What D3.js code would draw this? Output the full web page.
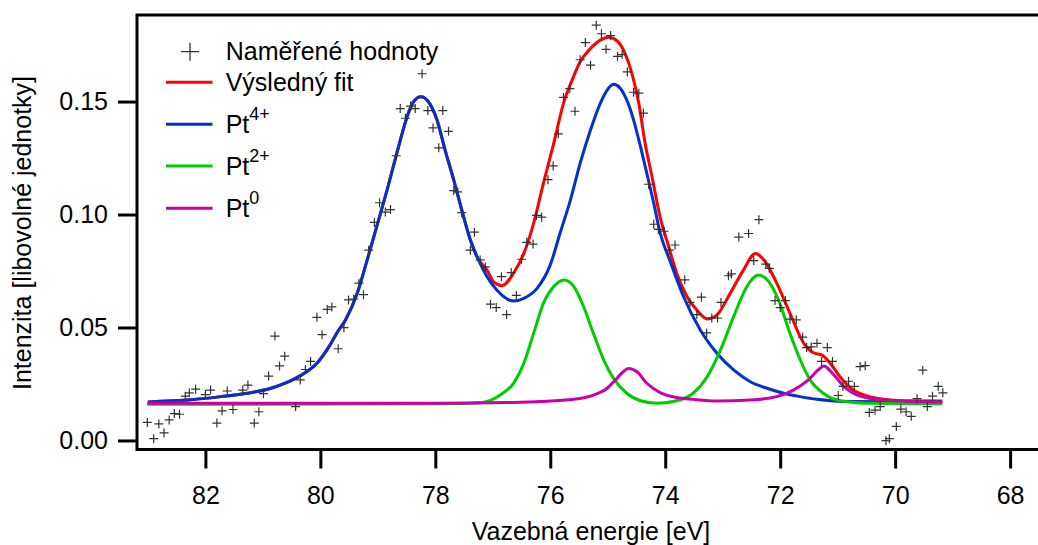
<!DOCTYPE html>
<html>
<head>
<meta charset="utf-8">
<script src="https://cdn.jsdelivr.net/npm/d3@7"></script>
<style>
  body { margin: 0; background: #fff; }
  svg text { font-family: "Liberation Sans", Arial, sans-serif; fill: #000; }
</style>
</head>
<body>
<div id="chart"></div>
<script>
// Measured points (binding energy in eV, intensity)
const measuredE = [83.01, 82.90, 82.81, 82.72, 82.63, 82.54, 82.45, 82.35, 82.28, 82.17,
  82.00, 81.91, 81.80, 81.71, 81.62, 81.52, 81.35, 81.26, 81.15, 81.07,
  80.99, 80.90, 80.79, 80.71, 80.62, 80.43, 80.35, 80.26, 80.17, 80.06,
  79.97, 79.88, 79.80, 79.69, 79.59, 79.51, 79.42, 79.33, 79.25, 79.16,
  79.06, 78.97, 78.87, 78.78, 78.68, 78.61, 78.52, 78.43, 78.35, 78.23,
  78.13, 78.04, 77.94, 77.87, 77.77, 77.68, 77.61, 77.54, 77.39, 77.32,
  77.22, 77.13, 77.04, 76.94, 76.85, 76.76, 76.68, 76.59, 76.50, 76.41,
  76.30, 76.24, 76.15, 76.04, 75.95, 75.86, 75.77, 75.66, 75.57, 75.48,
  75.39, 75.30, 75.20, 75.11, 75.03, 74.95, 74.83, 74.75, 74.66, 74.55,
  74.46, 74.38, 74.29, 74.20, 74.12, 74.02, 73.93, 73.83, 73.66, 73.57,
  73.45, 73.37, 73.28, 73.19, 73.09, 73.03, 72.90, 72.85, 72.72, 72.55,
  72.46, 72.37, 72.25, 72.19, 72.09, 72.00, 71.91, 71.83, 71.72, 71.61,
  71.54, 71.46, 71.36, 71.28, 71.18, 71.09, 70.99, 70.91, 70.81, 70.71,
  70.61, 70.52, 70.45, 70.35, 70.26, 70.16, 70.10, 69.98, 69.90, 69.81,
  69.72, 69.62, 69.52, 69.44, 69.35, 69.25, 69.17];
const measuredI = [0.0080, 0.0008, 0.0073, 0.0034, 0.0091, 0.0119, 0.0116, 0.0196, 0.0211, 0.0227,
  0.0203, 0.0223, 0.0077, 0.0131, 0.0219, 0.0137, 0.0223, 0.0245, 0.0077, 0.0127,
  0.0207, 0.0285, 0.0462, 0.0330, 0.0373, 0.0150, 0.0268, 0.0314, 0.0350, 0.0545,
  0.0468, 0.0580, 0.0591, 0.0406, 0.0499, 0.0622, 0.0626, 0.0696, 0.0645, 0.0842,
  0.0965, 0.1052, 0.1011, 0.1022, 0.1260, 0.1469, 0.1426, 0.1480, 0.1469, 0.1623,
  0.1460, 0.1383, 0.1295, 0.1460, 0.1368, 0.1106, 0.1100, 0.1008, 0.0842, 0.0922,
  0.0799, 0.0768, 0.0603, 0.0588, 0.0725, 0.0557, 0.0743, 0.0642, 0.0802, 0.0877,
  0.0869, 0.0996, 0.0988, 0.1154, 0.1215, 0.1357, 0.1518, 0.1557, 0.1457, 0.1685,
  0.1761, 0.1661, 0.1838, 0.1800, 0.1731, 0.1792, 0.1700, 0.1708, 0.1631, 0.1541,
  0.1537, 0.1449, 0.1134, 0.0957, 0.0934, 0.0926, 0.0842, 0.0865, 0.0711, 0.0611,
  0.0557, 0.0634, 0.0476, 0.0542, 0.0542, 0.0611, 0.0729, 0.0737, 0.0900, 0.0916,
  0.0796, 0.0977, 0.0780, 0.0762, 0.0619, 0.0588, 0.0619, 0.0537, 0.0534, 0.0457,
  0.0411, 0.0414, 0.0430, 0.0350, 0.0411, 0.0350, 0.0199, 0.0239, 0.0262, 0.0239,
  0.0327, 0.0331, 0.0124, 0.0134, 0.0150, -0.0001, 0.0008, 0.0062, 0.0139, 0.0127,
  0.0107, 0.0185, 0.0311, 0.0150, 0.0196, 0.0239, 0.0211];

// Fitted curves: [energy, intensity]
const fitCurve = [[83.00, 0.0170], [82.85, 0.0172], [82.31, 0.0179], [81.73, 0.0194], [81.27, 0.0209],
  [80.86, 0.0231], [80.57, 0.0258], [80.34, 0.0288], [80.06, 0.0342], [79.83, 0.0423],
  [79.71, 0.0477], [79.57, 0.0530], [79.36, 0.0650], [79.19, 0.0795], [79.01, 0.0955],
  [78.84, 0.1108], [78.67, 0.1271], [78.49, 0.1433], [78.38, 0.1499], [78.25, 0.1521],
  [78.12, 0.1499], [77.97, 0.1418], [77.83, 0.1285], [77.68, 0.1153], [77.54, 0.1020],
  [77.39, 0.0887], [77.25, 0.0802], [77.10, 0.0754], [76.99, 0.0703], [76.84, 0.0685],
  [76.64, 0.0740], [76.46, 0.0828], [76.29, 0.0961], [76.12, 0.1138], [75.94, 0.1315],
  [75.77, 0.1492], [75.62, 0.1595], [75.48, 0.1676], [75.30, 0.1735], [75.13, 0.1772],
  [74.99, 0.1784], [74.84, 0.1769], [74.70, 0.1713], [74.58, 0.1625], [74.46, 0.1492],
  [74.35, 0.1315], [74.23, 0.1167], [74.09, 0.0990], [73.94, 0.0858], [73.80, 0.0740],
  [73.62, 0.0636], [73.45, 0.0577], [73.27, 0.0538], [73.10, 0.0556], [72.87, 0.0651],
  [72.64, 0.0754], [72.43, 0.0828], [72.26, 0.0791], [72.06, 0.0696], [71.83, 0.0563],
  [71.59, 0.0430], [71.42, 0.0388], [71.27, 0.0378], [71.13, 0.0342], [70.96, 0.0282],
  [70.73, 0.0223], [70.49, 0.0197], [70.20, 0.0182], [69.86, 0.0176], [69.18, 0.0175]];

const pt4Curve = [[83.00, 0.0170], [82.85, 0.0172], [82.31, 0.0179], [81.73, 0.0194], [81.27, 0.0209],
  [80.86, 0.0231], [80.57, 0.0258], [80.34, 0.0288], [80.06, 0.0342], [79.83, 0.0423],
  [79.71, 0.0477], [79.57, 0.0530], [79.36, 0.0650], [79.19, 0.0795], [79.01, 0.0955],
  [78.84, 0.1108], [78.67, 0.1271], [78.49, 0.1433], [78.38, 0.1499], [78.25, 0.1521],
  [78.12, 0.1499], [77.97, 0.1418], [77.83, 0.1285], [77.68, 0.1153], [77.54, 0.1020],
  [77.39, 0.0887], [77.25, 0.0799], [77.10, 0.0725], [76.93, 0.0666], [76.64, 0.0617],
  [76.46, 0.0629], [76.23, 0.0673], [76.00, 0.0777], [75.83, 0.0917], [75.65, 0.1064],
  [75.48, 0.1227], [75.30, 0.1374], [75.13, 0.1492], [74.99, 0.1558], [74.90, 0.1576],
  [74.78, 0.1558], [74.67, 0.1507], [74.55, 0.1418], [74.43, 0.1300], [74.32, 0.1182],
  [74.20, 0.1050], [74.09, 0.0920], [73.91, 0.0790], [73.68, 0.0636], [73.39, 0.0489],
  [73.10, 0.0386], [72.81, 0.0312], [72.52, 0.0260], [72.23, 0.0231], [71.94, 0.0209],
  [71.65, 0.0194], [71.36, 0.0182], [71.07, 0.0175], [70.78, 0.0172], [69.18, 0.0170]];

const pt2Curve = [[83.01, 0.0160], [77.91, 0.0162], [77.22, 0.0167], [76.87, 0.0201], [76.64, 0.0253],
  [76.46, 0.0342], [76.29, 0.0474], [76.12, 0.0607], [75.94, 0.0681], [75.76, 0.0710],
  [75.59, 0.0681], [75.42, 0.0592], [75.25, 0.0474], [75.07, 0.0356], [74.90, 0.0275],
  [74.67, 0.0209], [74.43, 0.0176], [74.14, 0.0165], [73.80, 0.0176], [73.51, 0.0210],
  [73.27, 0.0282], [73.04, 0.0400], [72.81, 0.0548], [72.58, 0.0681], [72.38, 0.0732],
  [72.20, 0.0703], [72.03, 0.0622], [71.83, 0.0474], [71.65, 0.0356], [71.48, 0.0268],
  [71.25, 0.0209], [71.01, 0.0179], [70.49, 0.0165], [69.18, 0.0162]];

const pt0Curve = [[83.01, 0.0165], [77.91, 0.0165], [76.75, 0.0168], [76.17, 0.0172], [75.59, 0.0182],
  [75.25, 0.0201], [75.01, 0.0231], [74.84, 0.0275], [74.64, 0.0319], [74.49, 0.0304],
  [74.32, 0.0253], [74.09, 0.0212], [73.80, 0.0190], [73.51, 0.0182], [73.10, 0.0175],
  [72.52, 0.0179], [72.06, 0.0194], [71.77, 0.0223], [71.51, 0.0268], [71.34, 0.0312],
  [71.24, 0.0330], [71.09, 0.0297], [70.89, 0.0238], [70.66, 0.0201], [70.20, 0.0179],
  [69.18, 0.0170]];

const xTicks = [82, 80, 78, 76, 74, 72, 70, 68];
const yTicks = [0.00, 0.05, 0.10, 0.15];

const width = 1038, height = 545;
const plotLeft = 137, plotRight = 1040, plotTop = 15, plotBottom = 449.5;

const svg = d3.select("#chart").append("svg")
    .attr("width", width)
    .attr("height", height);

const x = d3.scaleLinear().domain([83.19, 67.48]).range([plotLeft, plotRight]);
const y = d3.scaleLinear().domain([-0.0040, 0.1883]).range([plotBottom, plotTop]);

// axes
const xAxis = svg.append("g")
    .attr("transform", `translate(0,${plotBottom})`)
    .call(d3.axisBottom(x).tickValues(xTicks).tickSize(19).tickPadding(18).tickFormat(d3.format("d")));
const yAxis = svg.append("g")
    .attr("transform", `translate(${plotLeft},0)`)
    .call(d3.axisLeft(y).tickValues(yTicks).tickSize(19).tickPadding(10).tickFormat(d3.format(".2f")));

[xAxis, yAxis].forEach(a => {
    a.select(".domain").remove();
    a.selectAll(".tick line").attr("stroke", "#000").attr("stroke-width", 3);
    a.selectAll(".tick text").attr("font-size", 25).attr("font-family", "Liberation Sans, Arial, sans-serif");
});

// curves
const line = d3.line()
    .x(d => x(d[0]))
    .y(d => y(d[1]))
    .curve(d3.curveMonotoneX);

const curves = [
    { data: fitCurve, color: "#ff0000" },
    { data: pt4Curve, color: "#0033cc" },
    { data: pt2Curve, color: "#00cc00" },
    { data: pt0Curve, color: "#cc00aa" }
];

svg.append("g")
    .selectAll("path")
    .data(curves)
    .enter()
    .append("path")
    .attr("d", d => line(d.data))
    .attr("fill", "none")
    .attr("stroke", d => d.color)
    .attr("stroke-width", 3)
    .attr("stroke-linejoin", "round");

// measured points as "+"
const pts = measuredE.map((e, i) => [e, measuredI[i]]);
svg.append("g")
    .selectAll("path")
    .data(pts)
    .enter()
    .append("path")
    .attr("transform", d => `translate(${x(d[0])},${y(d[1])})`)
    .attr("d", "M-4.5,0H4.5M0,-4.5V4.5")
    .attr("stroke", "#333")
    .attr("stroke-width", 1.2)
    .attr("fill", "none");

// frame
svg.append("rect")
    .attr("x", plotLeft)
    .attr("y", plotTop)
    .attr("width", plotRight - plotLeft)
    .attr("height", plotBottom - plotTop)
    .attr("fill", "none")
    .attr("stroke", "#000")
    .attr("stroke-width", 3);

// axis titles
svg.append("text")
    .attr("x", 591)
    .attr("y", 540)
    .attr("text-anchor", "middle")
    .attr("font-size", 25)
    .text("Vazebná energie [eV]");

svg.append("text")
    .attr("transform", "translate(31,233) rotate(-90)")
    .attr("text-anchor", "middle")
    .attr("font-size", 25)
    .text("Intenzita [libovolné jednotky]");

// legend
const legend = svg.append("g");
legend.append("path")
    .attr("d", "M181,51.7H199M190,42.7V60.7")
    .attr("stroke", "#333")
    .attr("stroke-width", 1.3);
legend.append("text")
    .attr("x", 225.7)
    .attr("y", 60)
    .attr("font-size", 25)
    .text("Naměřené hodnoty");

const legendRows = [
    { y: 82.3, color: "#ff0000", label: "Výsledný fit", sup: null },
    { y: 124.3, color: "#0033cc", label: "Pt", sup: "4+" },
    { y: 166, color: "#00cc00", label: "Pt", sup: "2+" },
    { y: 208.3, color: "#cc00aa", label: "Pt", sup: "0" }
];

legendRows.forEach(r => {
    legend.append("line")
        .attr("x1", 166).attr("x2", 212.5)
        .attr("y1", r.y).attr("y2", r.y)
        .attr("stroke", r.color)
        .attr("stroke-width", 3);
    const t = legend.append("text")
        .attr("x", 225.7)
        .attr("y", r.y + 8.7)
        .attr("font-size", 25);
    t.append("tspan").text(r.label);
    if (r.sup) {
        t.append("tspan")
            .attr("dy", -13)
            .attr("font-size", 18)
            .text(r.sup);
    }
});
</script>
</body>
</html>
